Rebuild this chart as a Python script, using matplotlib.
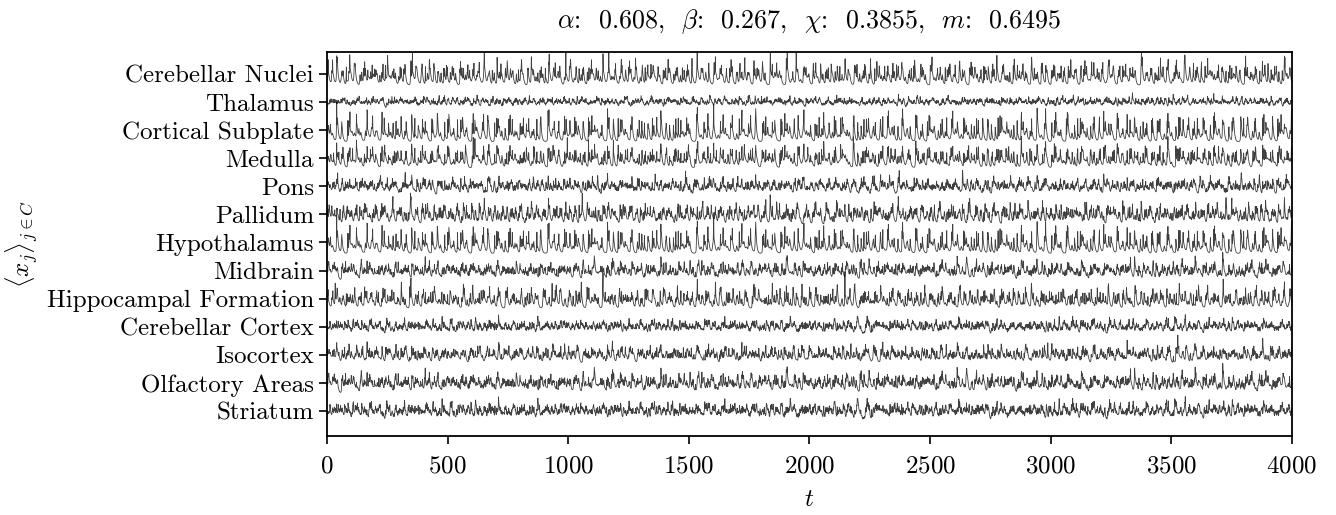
import numpy as np
import matplotlib
matplotlib.use("Agg")
import matplotlib.pyplot as plt

plt.rcParams['font.family'] = 'serif'
plt.rcParams['font.serif'] = ['cmr10']
plt.rcParams['mathtext.fontset'] = 'cm'
plt.rcParams['axes.formatter.use_mathtext'] = True

regions = ["Cerebellar Nuclei", "Thalamus", "Cortical Subplate", "Medulla", "Pons",
           "Pallidum", "Hypothalamus", "Midbrain", "Hippocampal Formation",
           "Cerebellar Cortex", "Isocortex", "Olfactory Areas", "Striatum"]
# neurons averaged per region and their excitability k (Chialvo map)
n_neurons = [4, 30, 3, 5, 14, 8, 3, 12, 5, 24, 10, 12, 24]
k_exc = [0.036, 0.032, 0.034, 0.034, 0.034, 0.036, 0.034, 0.034, 0.036, 0.033, 0.034, 0.034, 0.033]
# trace height in row units
heights = [0.95, 0.35, 1.0, 0.8, 0.6, 0.75, 0.95, 0.65, 0.8, 0.5, 0.6, 0.7, 0.6]
params = {"alpha": 0.608, "beta": 0.267, "chi": 0.3855, "m": 0.6495}
T = 4000
transient = 500


def chialvo_mean(n, k, steps):
    # Chialvo neuron map, a=0.89, b=0.18, c=0.28 (chaotic regime)
    x = np.linspace(0.2, 1.0, n)
    y = np.linspace(1.2, 2.0, n)
    kk = k + np.linspace(-0.006, 0.006, n)
    out = np.empty(steps)
    for i in range(steps + transient):
        with np.errstate(over='ignore', invalid='ignore'):
            x, y = x * x * np.exp(y - x) + kk, 0.89 * y - 0.18 * x + 0.28
        bad = ~np.isfinite(x) | (x > 50)
        x[bad] = 0.5
        y[bad] = 1.5
        if i >= transient:
            out[i - transient] = x.mean()
    return out


fig, ax = plt.subplots(figsize=(13.36, 5.15), dpi=100)
fig.subplots_adjust(left=0.2448, right=0.967, bottom=0.1534, top=0.899)

t = np.arange(T)
nr = len(regions)
for idx, name in enumerate(regions):
    s = chialvo_mean(n_neurons[idx], k_exc[idx], T)
    lo, hi = np.percentile(s, 0.5), np.percentile(s, 99.3)
    s = (s - lo) / (hi - lo)
    pos = nr - 1 - idx
    ax.plot(t, pos + (s - 0.4) * heights[idx], color='black', lw=0.6, alpha=0.75)

ax.set_yticks(np.arange(nr - 1, -1, -1))
ax.set_yticklabels(regions)
ax.set_xlim(0, T)
ax.set_ylim(-0.89, 12.78)
ax.set_xticks(np.arange(0, 4001, 500))
ax.tick_params(labelsize=18, length=6, width=1.2)
ax.tick_params(axis='x', pad=8)
for sp in ax.spines.values():
    sp.set_linewidth(1.3)
ax.set_xlabel(r"$t$", fontsize=18, labelpad=8)
ax.set_ylabel(r"$\langle x_j\rangle_{j\in C}$", fontsize=18)
ax.set_title(r"$\alpha$:  %s,  $\beta$:  %s,  $\chi$:  %s,  $m$:  %s"
             % (params["alpha"], params["beta"], params["chi"], params["m"]),
             fontsize=18.7, pad=17)

fig.savefig("out.png")
